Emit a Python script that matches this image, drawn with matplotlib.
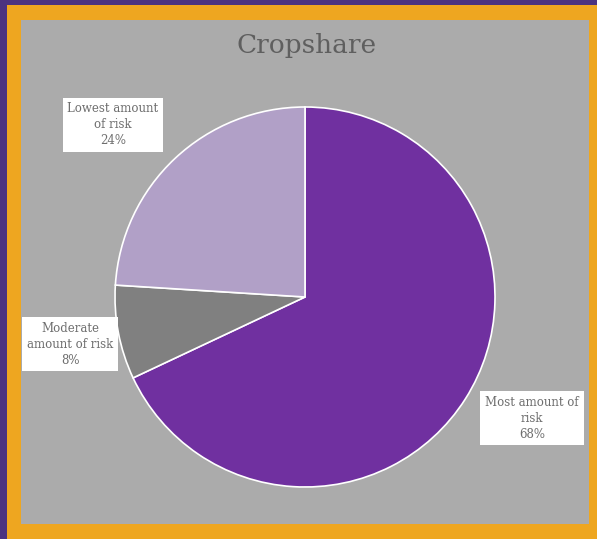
import matplotlib.pyplot as plt
from matplotlib.patches import Rectangle

# Chart data
labels = ['Most amount of\nrisk', 'Moderate\namount of risk', 'Lowest amount\nof risk']
shares = [68, 8, 24]
colors = ['#7030A0', '#808080', '#B1A0C7']

W, H = 597, 539
fig = plt.figure(figsize=(W / 100, H / 100), dpi=100)
fig.patch.set_facecolor('#4B3380')

# orange frame + gray panel (pixel boxes, y measured from top)
def px_rect(x0, y0, x1, y1, color):
    fig.patches.append(Rectangle((x0 / W, 1 - y1 / H), (x1 - x0) / W, (y1 - y0) / H,
                                 transform=fig.transFigure, facecolor=color,
                                 edgecolor='none', zorder=-5))

px_rect(7, 5, W, H, '#EEA620')
px_rect(21, 20, 589, 524, '#ABABAB')

# pie axes: center (305, 297), radius 190 px
cx, cy, r = 305, 297, 190
ax = fig.add_axes([(cx - r) / W, 1 - (cy + r) / H, 2 * r / W, 2 * r / H])
ax.set_facecolor('none')
ax.pie(shares, colors=colors, startangle=90, counterclock=False,
       wedgeprops=dict(edgecolor='white', linewidth=1.2))
ax.set_xlim(-1, 1)
ax.set_ylim(-1, 1)
ax.set_aspect('equal')
ax.axis('off')

fig.text(307 / W, 1 - 45 / H, 'Cropshare', ha='center', va='center',
         fontsize=19, family='DejaVu Serif', color='#5F5F5F')

# data labels in white boxes
label_pos = [(532, 418), (70, 344), (113, 125)]
for (x, y), lab, s in zip(label_pos, labels, shares):
    fig.text(x / W, 1 - y / H, f'{lab}\n{s}%', ha='center', va='center',
             fontsize=8.5, family='DejaVu Serif', color='#6E6E6E',
             linespacing=1.3, zorder=5,
             bbox=dict(boxstyle='square,pad=0.4', facecolor='white',
                       edgecolor='none'))

fig.savefig('out.png', dpi=100, facecolor=fig.get_facecolor())
